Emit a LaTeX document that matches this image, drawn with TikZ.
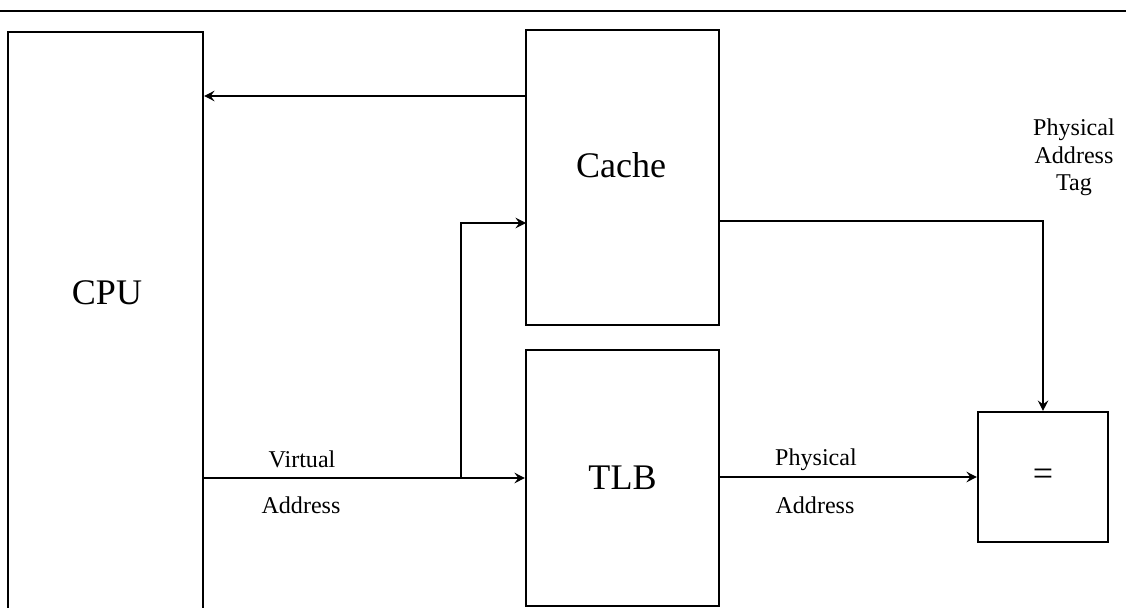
\documentclass[tikz,border=0pt]{standalone}
\usepackage{fontspec}
\setmainfont{Liberation Serif}
\usetikzlibrary{arrows.meta}

\tikzset{
  blok/.style={draw, line width=1.2pt, rectangle, inner sep=0pt},
  big/.style={font=\fontsize{20.5}{24}\selectfont},
  small/.style={font=\fontsize{13.7}{16}\selectfont, anchor=base, inner sep=0pt},
  arr/.style={-{Stealth[length=6pt,width=6pt,inset=2.2pt]}, line width=0.7pt}
}

\begin{document}
\begin{tikzpicture}[x=0.02cm,y=-0.02cm]
\useasboundingbox (0,0) rectangle (1126,608);
\clip (0,0) rectangle (1126,608);

\draw[line width=1.2pt] (0,11) -- (1126,11);

\node[blok, minimum width=3.9cm, minimum height=11.6cm] (cpu) at (105.5,322) {};
\node[blok, minimum width=3.86cm, minimum height=5.9cm] (cache) at (622.5,177.5) {};
\node[blok, minimum width=3.86cm, minimum height=5.12cm, big] (tlb) at (622.5,478) {TLB};
\node[blok, minimum width=2.6cm, minimum height=2.6cm, big] (eq) at (1043,477) {=};

\node[big] (cputxt) at (107,293) {CPU};
\node[big] (cachetxt) at (621,165) {Cache};

\node[small] (va1) at (302,467) {Virtual};
\node[small] (va2) at (301,513) {Address};
\node[small] (pa1) at (816,465) {Physical};
\node[small] (pa2) at (815,513) {Address};
\node[small] (tag1) at (1074,135) {Physical};
\node[small] (tag2) at (1074,163) {Address};
\node[small] (tag3) at (1074,191) {Tag};

\coordinate (rd) at (526,96);
\coordinate (br) at (461,478);
\coordinate (cin) at (526,223);
\coordinate (cout) at (719,221);

\draw[arr] (rd) -- (rd -| cpu.east);
\draw[arr] (cpu.east |- tlb.west) -- (tlb.west);
\draw[arr] (br) |- (cin);
\draw[arr] (cout) -| (eq.north);
\draw[arr] (tlb.east |- eq.west) -- (eq.west);
\end{tikzpicture}
\end{document}
